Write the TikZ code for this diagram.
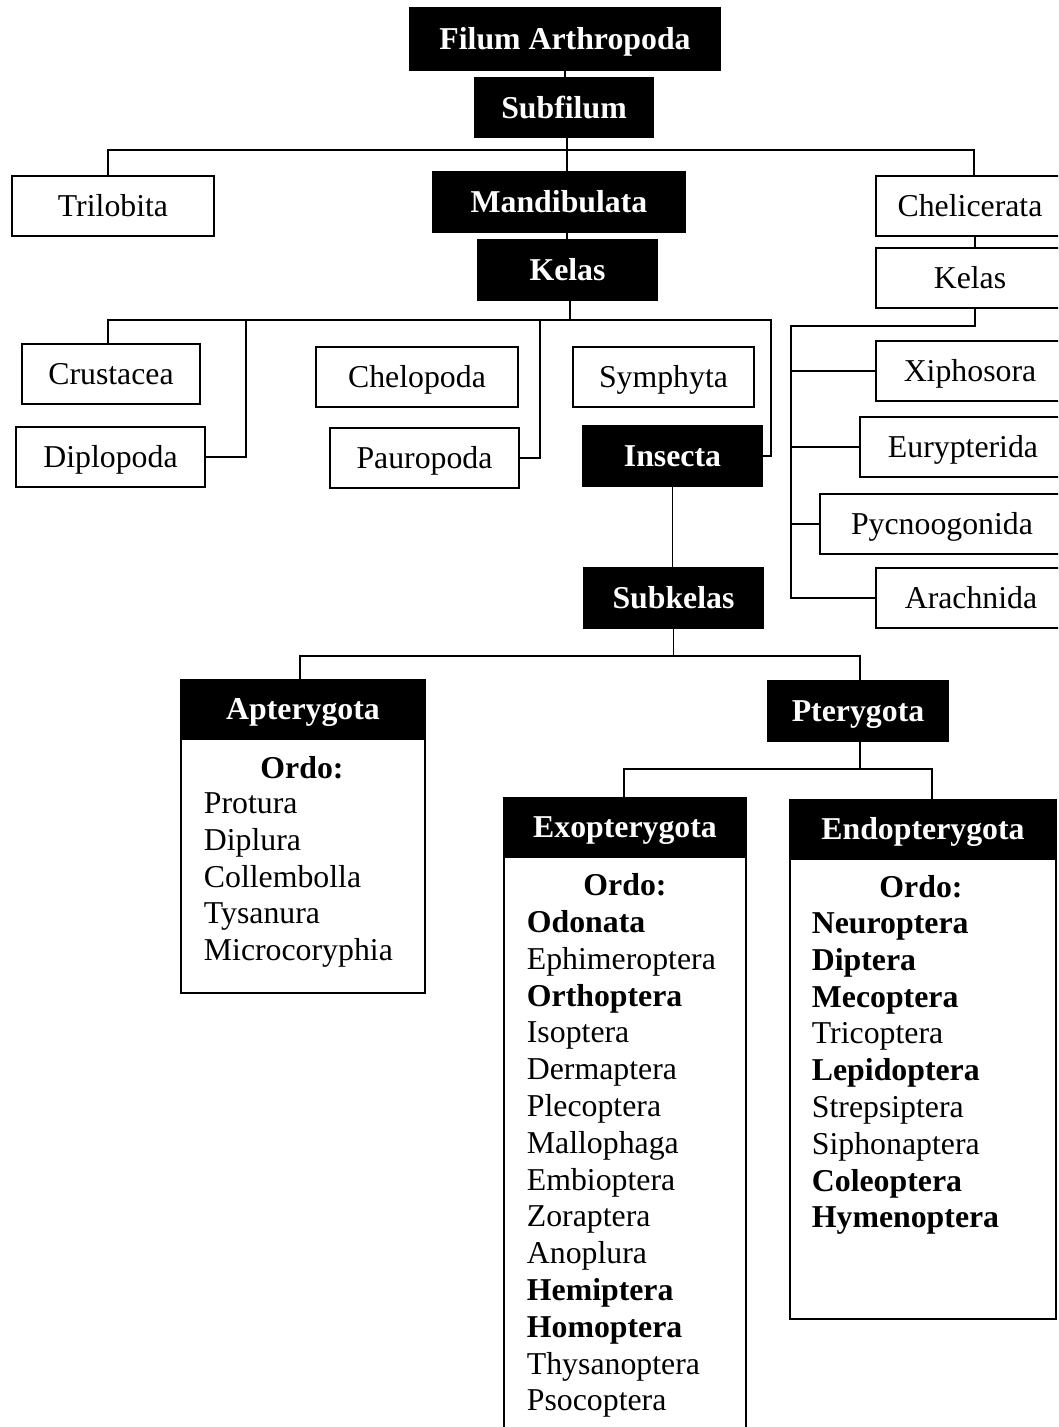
\documentclass[tikz,border=0pt]{standalone}
\usepackage{fontspec}
\setmainfont{Liberation Serif}
\newcommand\myfs{\fontsize{31.8}{36.8}\selectfont}
\begin{document}
\begin{tikzpicture}[x=1pt,y=-1pt, line width=1.8pt,
  wbox/.style={draw=black, fill=white, inner sep=0pt, font=\myfs, text height=24pt, text depth=3pt},
  bbox/.style={draw=black, fill=black, text=white, inner sep=0pt, font=\myfs\bfseries, text height=24pt, text depth=3pt},
  ebox/.style={draw=black, fill=white, inner sep=0pt},
  item/.style={inner sep=0pt, font=\myfs, anchor=base west},
  ordo/.style={inner sep=0pt, font=\myfs\bfseries, anchor=base}]
\useasboundingbox (0,0) rectangle (1058,1427);
\clip (0,0) rectangle (1058,1427);
% top
\node[bbox, minimum width=310, minimum height=62] (filum) at (565,39) {Filum Arthropoda};
\node[bbox, minimum width=178, minimum height=59] (subfilum) at (564,107.5) {Subfilum};
\node[wbox, minimum width=202, minimum height=60] (trilo) at (113,206) {Trilobita};
\node[bbox, minimum width=252, minimum height=60] (mandib) at (559,202) {Mandibulata};
\node[wbox, minimum width=188, minimum height=60] (chel) at (970,206) {Chelicerata};
\node[bbox, minimum width=179, minimum height=60] (kelas) at (567.5,270) {Kelas};
\node[wbox, minimum width=188, minimum height=60] (kelasr) at (970,278) {Kelas};
% mandibulata classes
\node[wbox, minimum width=178, minimum height=60] (crus) at (111,374) {Crustacea};
\node[wbox, minimum width=189, minimum height=60] (diplo) at (110.5,457) {Diplopoda};
\node[wbox, minimum width=202, minimum height=60] (chelo) at (417,377) {Chelopoda};
\node[wbox, minimum width=189, minimum height=60] (pauro) at (424.5,458) {Pauropoda};
\node[wbox, minimum width=181, minimum height=60] (symph) at (663.5,377) {Symphyta};
\node[bbox, minimum width=179, minimum height=60] (insecta) at (672.5,456) {Insecta};
% chelicerata classes
\node[wbox, minimum width=188, minimum height=60] (xiph) at (970,371) {Xiphosora};
\node[wbox, minimum width=206, minimum height=60] (euryp) at (963,447) {Eurypterida};
\node[wbox, minimum width=244, minimum height=60] (pycno) at (942,524) {Pycnoogonida};
\node[wbox, minimum width=190, minimum height=60] (arach) at (971,598) {Arachnida};
% insecta
\node[bbox, minimum width=179, minimum height=60] (subkelas) at (673.5,598) {Subkelas};
\node[bbox, minimum width=244, minimum height=57] (apt) at (303,708.5) {Apterygota};
\node[ebox, minimum width=244, minimum height=254, anchor=north] (aptbody) at (apt.south) {};
\node[bbox, minimum width=180, minimum height=60] (ptery) at (858,711) {Pterygota};
\node[bbox, minimum width=242, minimum height=57] (exo) at (625,826.5) {Exopterygota};
\node[ebox, minimum width=242, minimum height=600, anchor=north] (exobody) at (exo.south) {};
\node[bbox, minimum width=266, minimum height=57] (endo) at (923,828.5) {Endopterygota};
\node[ebox, minimum width=266, minimum height=460, anchor=north] (endobody) at (endo.south) {};
% lists
\node[ordo] (aptordo) at (302,778.5) {Ordo:};
\foreach \t [count=\i] in {Protura, Diplura, Collembolla, Tysanura, Microcoryphia}
  \node[item] (apt\i) at (203,{813.5+(\i-1)*36.8}) {\t};
\node[ordo] (exoordo) at (625,895.5) {Ordo:};
\foreach \t [count=\i] in {\textbf{Odonata}, Ephimeroptera, \textbf{Orthoptera}, Isoptera, Dermaptera, Plecoptera, Mallophaga, Embioptera, Zoraptera, Anoplura, \textbf{Hemiptera}, \textbf{Homoptera}, Thysanoptera, Psocoptera}
  \node[item] (exo\i) at (526,{932.5+(\i-1)*36.8}) {\t};
\node[ordo] (endoordo) at (921,897.5) {Ordo:};
\foreach \t [count=\i] in {\textbf{Neuroptera}, \textbf{Diptera}, \textbf{Mecoptera}, Tricoptera, \textbf{Lepidoptera}, Strepsiptera, Siphonaptera, \textbf{Coleoptera}, \textbf{Hymenoptera}}
  \node[item] (endo\i) at (811,{933.5+(\i-1)*36.8}) {\t};
% connectors
\coordinate (b1) at (567,150);
\draw (filum.south) -- (filum.south |- subfilum.north);
\draw (subfilum.south -| b1) -- (mandib.north -| b1);
\draw ([xshift=-5pt]trilo.north) |- (b1) -| ([xshift=4pt]chel.north);
\draw (mandib.south -| b1) -- (kelas.north -| b1);
\draw ([xshift=5pt]chel.south) -- ([xshift=5pt]kelasr.north);
\coordinate (b2) at (570,320);
\coordinate (k1) at (246,320);
\coordinate (k2) at (540,320);
\coordinate (k3) at (771,320);
\draw (kelas.south -| b2) -- (b2);
\draw ([xshift=-3pt]crus.north) |- (k3) |- (insecta.east);
\draw (k1) |- (diplo.east);
\draw (k2) |- (pauro.east);
\coordinate (r0) at (791,326);
\draw ([xshift=5pt]kelasr.south) |- (r0) |- (arach.west);
\draw (r0 |- xiph.west) -- (xiph.west);
\draw (r0 |- euryp.west) -- (euryp.west);
\draw (r0 |- pycno.west) -- (pycno.west);
\draw (insecta.south) -- (insecta.south |- subkelas.north);
\coordinate (s1) at (673.5,656);
\draw (subkelas.south) -- (s1);
\draw ([xshift=-3pt]apt.north) |- (s1) -| ([xshift=2pt]ptery.north);
\coordinate (p1) at (860,769);
\draw ([xshift=2pt]ptery.south) -- (p1);
\draw ([xshift=-1pt]exo.north) |- (p1) -| ([xshift=9pt]endo.north);
\end{tikzpicture}
\end{document}
